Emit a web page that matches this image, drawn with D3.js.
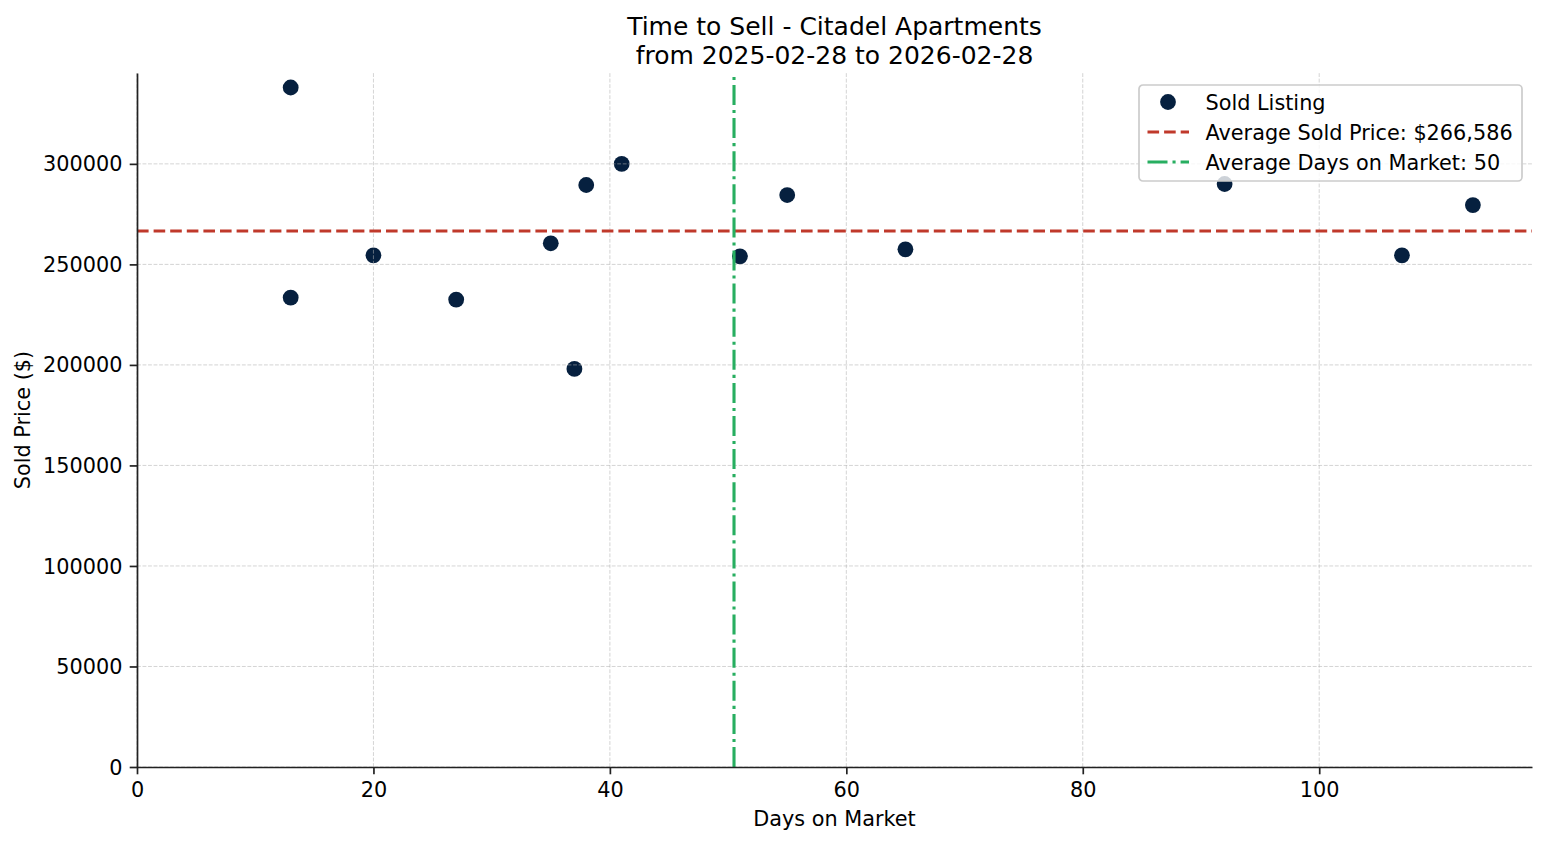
<!DOCTYPE html>
<html>
<head>
<meta charset="utf-8">
<script src="https://cdn.jsdelivr.net/npm/d3@7"></script>
<style>
  body { margin: 0; background: #fff; }
  svg { display: block; font-family: "DejaVu Sans", sans-serif; }
</style>
</head>
<body>
<svg width="1547" height="845"></svg>
<script>
// sold listings
const daysOnMarket = [13, 13, 20, 27, 35, 37, 38, 41, 51, 55, 65, 92, 107, 113];
const soldPrices = [338000, 233500, 254500, 232500, 260500, 198000, 289500, 300000, 254000, 284500, 257500, 290000, 254500, 279500];

// averages as printed in the legend
const avgPrice = 266586;
const avgDays = 50.5;

const xTicks = [0, 20, 40, 60, 80, 100];
const yTicks = [0, 50000, 100000, 150000, 200000, 250000, 300000];

const titleLines = ["Time to Sell - Citadel Apartments", "from 2025-02-28 to 2026-02-28"];
const legendLabels = ["Sold Listing", "Average Sold Price: $" + d3.format(",")(avgPrice), "Average Days on Market: " + Math.round(avgDays - 0.01)];

const navy = "#06203f", red = "#c0392b", green = "#27ae60";

const margin = {left: 137, right: 15, top: 73, bottom: 78};
const W = 1547, H = 845;
const svg = d3.select("svg");

const x = d3.scaleLinear().domain([0, 118]).range([margin.left, W - margin.right]);
const y = d3.scaleLinear().domain([0, 345200]).range([H - margin.bottom, margin.top]);

const data = daysOnMarket.map((d, i) => ({days: d, price: soldPrices[i]}));

// points (matplotlib draws the grid on top of scatter)
svg.append("g")
  .selectAll("circle")
  .data(data)
  .enter()
  .append("circle")
  .attr("cx", d => x(d.days))
  .attr("cy", d => y(d.price))
  .attr("r", 7.9)
  .attr("fill", navy);

// grid
const grid = svg.append("g")
  .attr("stroke", "#b0b0b0")
  .attr("stroke-opacity", 0.55)
  .attr("stroke-width", 1)
  .attr("stroke-dasharray", "3.85,1.67");
grid.selectAll(".gx").data(xTicks).enter().append("line")
  .attr("x1", d => x(d)).attr("x2", d => x(d))
  .attr("y1", y.range()[0]).attr("y2", y.range()[1]);
grid.selectAll(".gy").data(yTicks).enter().append("line")
  .attr("y1", d => y(d)).attr("y2", d => y(d))
  .attr("x1", x.range()[0]).attr("x2", x.range()[1]);

// average lines
svg.append("line")
  .attr("x1", x.range()[0]).attr("x2", x.range()[1])
  .attr("y1", y(avgPrice)).attr("y2", y(avgPrice))
  .attr("stroke", red).attr("stroke-width", 3.1)
  .attr("stroke-dasharray", "11.6,5");
svg.append("line")
  .attr("x1", x(avgDays)).attr("x2", x(avgDays))
  .attr("y1", y.range()[0]).attr("y2", y.range()[1])
  .attr("stroke", green).attr("stroke-width", 3.1)
  .attr("stroke-dasharray", "20,5,3.1,5");

// axes (no top / right spines, no outer ticks)
const xAxis = svg.append("g")
  .attr("transform", `translate(0,${y.range()[0]})`)
  .call(d3.axisBottom(x).tickValues(xTicks).tickSizeInner(7.3).tickSizeOuter(0).tickPadding(7.3).tickFormat(d3.format("d")));
const yAxis = svg.append("g")
  .attr("transform", `translate(${x.range()[0]},0)`)
  .call(d3.axisLeft(y).tickValues(yTicks).tickSizeInner(7.3).tickSizeOuter(0).tickPadding(7.3).tickFormat(d3.format("d")));

[xAxis, yAxis].forEach(g => {
  g.select(".domain").attr("stroke", "#222").attr("stroke-width", 1.7);
  g.selectAll(".tick line").attr("stroke", "#222").attr("stroke-width", 1.7);
  g.selectAll(".tick text").attr("fill", "#000").style("font-size", "20.8px").style("font-family", "DejaVu Sans");
});
xAxis.selectAll(".tick text").attr("dy", "0.76em");
yAxis.selectAll(".tick text").attr("dy", "0.34em");

// axis labels
svg.append("text")
  .attr("x", (x.range()[0] + x.range()[1]) / 2).attr("y", 826)
  .attr("text-anchor", "middle").style("font-size", "20.8px")
  .text("Days on Market");
svg.append("text")
  .attr("transform", `translate(30,${(y.range()[0] + y.range()[1]) / 2}) rotate(-90)`)
  .attr("text-anchor", "middle").style("font-size", "20.8px")
  .text("Sold Price ($)");

// title
svg.append("g").selectAll("text")
  .data(titleLines)
  .enter()
  .append("text")
  .attr("x", (x.range()[0] + x.range()[1]) / 2)
  .attr("y", (d, i) => 35 + i * 28.5)
  .attr("text-anchor", "middle").style("font-size", "25px")
  .text(d => d);

// legend
const legend = svg.append("g").attr("transform", "translate(1139,85)");
legend.append("rect")
  .attr("width", 383).attr("height", 96).attr("rx", 4)
  .attr("fill", "#fff").attr("fill-opacity", 0.8)
  .attr("stroke", "#cccccc").attr("stroke-width", 1.7);
const rows = legend.selectAll(".row")
  .data(legendLabels)
  .enter()
  .append("g")
  .attr("transform", (d, i) => `translate(0,${17 + i * 30})`);
rows.append("text")
  .attr("x", 66.5).attr("dy", "0.36em")
  .style("font-size", "20.8px")
  .text(d => d);
rows.filter((d, i) => i === 0).append("circle")
  .attr("cx", 29).attr("r", 7.9).attr("fill", navy);
rows.filter((d, i) => i === 1).append("line")
  .attr("x1", 8.5).attr("x2", 50).attr("stroke", red).attr("stroke-width", 3.1)
  .attr("stroke-dasharray", "11.6,5");
rows.filter((d, i) => i === 2).append("line")
  .attr("x1", 8.5).attr("x2", 50).attr("stroke", green).attr("stroke-width", 3.1)
  .attr("stroke-dasharray", "20,5,3.1,5");
</script>
</body>
</html>
